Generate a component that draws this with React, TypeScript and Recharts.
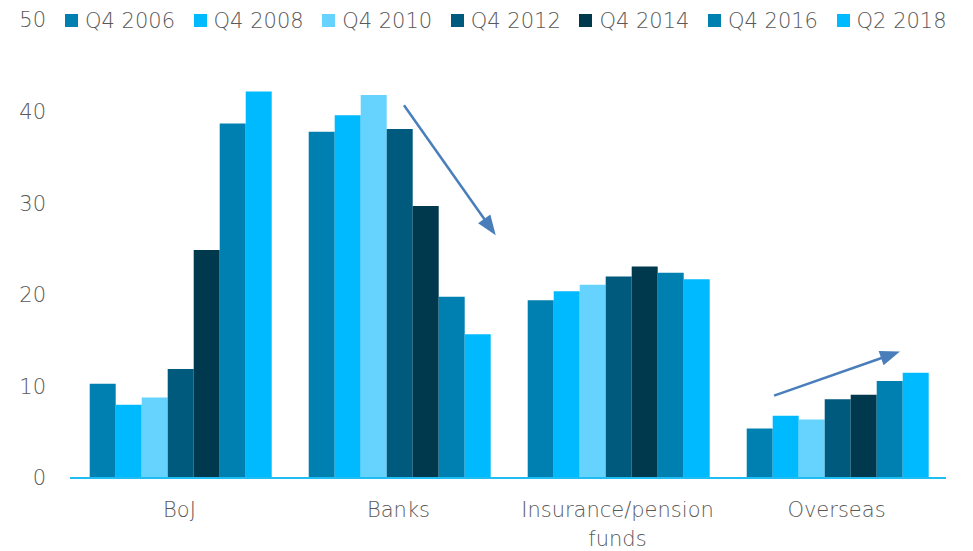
import { Bar, BarChart, XAxis, YAxis, usePlotArea } from 'recharts'

const categories = ['BoJ', 'Banks', 'Insurance/pension funds', 'Overseas']
const seriesNames = ['Q4 2006', 'Q4 2008', 'Q4 2010', 'Q4 2012', 'Q4 2014', 'Q4 2016', 'Q2 2018']
const seriesColors = ['#0080B1', '#00BAFF', '#66D3FF', '#005A7D', '#00394D', '#0080B1', '#00BAFF']

const q4_2006 = [10.3, 37.8, 19.4, 5.4]
const q4_2008 = [8.0, 39.6, 20.4, 6.8]
const q4_2010 = [8.8, 41.8, 21.1, 6.4]
const q4_2012 = [11.9, 38.1, 22.0, 8.6]
const q4_2014 = [24.9, 29.7, 23.1, 9.1]
const q4_2016 = [38.7, 19.8, 22.4, 10.6]
const q2_2018 = [42.2, 15.7, 21.7, 11.5]

const yTicks = [0, 10, 20, 30, 40, 50]
const Y_MAX = 50

// trend arrows, x in category units (0..4), y in chart values
const arrows = [
  { from: { x: 1.525, y: 40.7 }, to: { x: 1.944, y: 26.5 } },
  { from: { x: 3.215, y: 9.0 }, to: { x: 3.79, y: 13.8 } },
]

const allSeries = [q4_2006, q4_2008, q4_2010, q4_2012, q4_2014, q4_2016, q2_2018]

const data = categories.map((name, i) => {
  const row: Record<string, number | string> = { name }
  seriesNames.forEach((s, j) => {
    row[s] = allSeries[j][i]
  })
  return row
})

const FONT = '"DejaVu Sans", "Liberation Sans", sans-serif'
const TEXT = '#595959'
const ARROW = '#4A7EBB'

function CategoryTick({ x, y, payload }: { x?: number; y?: number; payload?: { value: string } }) {
  const label = payload?.value ?? ''
  const cut = label.lastIndexOf(' ')
  const lines = label.length > 15 ? [label.slice(0, cut), label.slice(cut + 1)] : [label]
  return (
    <text x={x} y={y} textAnchor="middle" fill={TEXT} fontSize={21} fontFamily={FONT} fontWeight={300}>
      {lines.map((line, i) => (
        <tspan key={line} x={x} dy={i === 0 ? '0.71em' : 29}>
          {line}
        </tspan>
      ))}
    </text>
  )
}

function TrendArrows() {
  const plot = usePlotArea()
  if (!plot) return null
  const px = (v: number) => plot.x + (v / categories.length) * plot.width
  const py = (v: number) => plot.y + (1 - v / Y_MAX) * plot.height
  return (
    <g>
      {arrows.map((a, i) => {
        const x1 = px(a.from.x)
        const y1 = py(a.from.y)
        const x2 = px(a.to.x)
        const y2 = py(a.to.y)
        const angle = Math.atan2(y2 - y1, x2 - x1)
        const head = 20
        const half = 7.5
        const bx = x2 - head * Math.cos(angle)
        const by = y2 - head * Math.sin(angle)
        const nx = -Math.sin(angle) * half
        const ny = Math.cos(angle) * half
        return (
          <g key={i}>
            <line x1={x1} y1={y1} x2={bx + 2 * Math.cos(angle)} y2={by + 2 * Math.sin(angle)} stroke={ARROW} strokeWidth={2.5} />
            <polygon points={`${x2},${y2} ${bx + nx},${by + ny} ${bx - nx},${by - ny}`} fill={ARROW} />
          </g>
        )
      })}
    </g>
  )
}

function LegendRow() {
  return (
    <div
      style={{
        position: 'absolute',
        left: 65,
        top: 8,
        height: 25,
        display: 'flex',
        alignItems: 'center',
        fontFamily: FONT,
        fontWeight: 300,
        fontSize: 21,
        color: TEXT,
        whiteSpace: 'nowrap',
      }}
    >
      {seriesNames.map((s, i) => (
        <div key={s} style={{ width: 128.6, display: 'flex', alignItems: 'center' }}>
          <span style={{ width: 13, height: 13, background: seriesColors[i], marginRight: 7, display: 'inline-block' }} />
          <span>{s}</span>
        </div>
      ))}
    </div>
  )
}

export default function App() {
  return (
    <div style={{ position: 'absolute', left: 0, top: 0, width: 973, height: 551, background: '#fff' }}>
      <BarChart
        width={973}
        height={551}
        data={data}
        margin={{ top: 20, right: 27, bottom: 0, left: 0 }}
        barCategoryGap="9%"
        barGap={0}
      >
        <XAxis
          dataKey="name"
          interval={0}
          tickLine={false}
          tickSize={0}
          tickMargin={24}
          axisLine={{ stroke: '#1EBEF5', strokeWidth: 2 }}
          tick={<CategoryTick />}
          height={73}
        />
        <YAxis
          domain={[0, Y_MAX]}
          ticks={yTicks}
          interval={0}
          width={70}
          axisLine={false}
          tickLine={false}
          tickSize={0}
          tickMargin={24}
          tick={{ fill: TEXT, fontSize: 21, fontFamily: FONT, fontWeight: 300 }}
        />
        {seriesNames.map((s, i) => (
          <Bar key={s} dataKey={s} fill={seriesColors[i]} isAnimationActive={false} />
        ))}
        <TrendArrows />
      </BarChart>
      <LegendRow />
    </div>
  )
}
